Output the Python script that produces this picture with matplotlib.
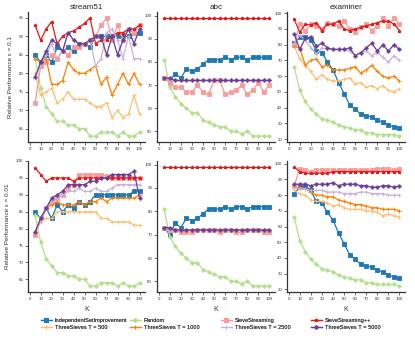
import matplotlib
matplotlib.use("Agg")
import matplotlib.pyplot as plt
import numpy as np

plt.rcParams['font.family'] = ['Liberation Sans', 'DejaVu Sans']

K = [5, 10, 15, 20, 25, 30, 35, 40, 45, 50, 55, 60, 65, 70, 75, 80, 85, 90, 95, 100]

series_names = ["IndependentSetImprovement", "Random", "SieveStreaming", "SieveStreaming++",
                "ThreeSieves T = 500", "ThreeSieves T = 1000", "ThreeSieves T = 2500", "ThreeSieves T = 5000"]
colors = ["#1f78b4", "#b2df8a", "#fb9a99", "#e31a1c", "#fdbf6f", "#ff7f00", "#cab2d6", "#6a3d9a"]
markers = ["s", "P", "s", "*", "+", "+", "+", "P"]

datasets = ["stream51", "abc", "examiner"]
eps_labels = ["Relative Performance ε = 0.1", "Relative Performance ε = 0.01"]

# ---- stream51, eps = 0.1
s51_e1_isi = [85, 83, 85, 83, 87, 86, 87, 86, 88, 88, 87, 90, 90, 90, 90, 90, 90, 90, 91, 91]
s51_e1_rand = [84, 76, 71, 69, 67, 67, 66, 66, 65, 65, 63, 63, 64, 64, 64, 63, 64, 63, 63, 64]
s51_e1_ss = [72, 82, 83, 85, 84, 86, 85, 87, 87, 88, 89, 90, 93, 95, 89, 93, 89, 92, 91, 93]
s51_e1_sspp = [93, 89, 92, 94, 88, 90, 91, 91.5, 92.5, 93.5, 95, 88, 89, 89, 90, 91, 91, 92, 92, 93]
s51_e1_t500 = [80, 74, 75, 76, 72, 73, 75, 73, 73, 73, 72, 71, 71, 72, 68, 70, 68, 69, 74, 69]
s51_e1_t1000 = [84, 83, 84, 77, 77, 78, 83, 81, 80, 80, 81, 82, 77, 79, 74, 77, 80, 77, 80, 77]
s51_e1_t2500 = [79, 82, 85, 88, 84, 86, 91, 89, 88, 88, 89, 82, 84, 91, 92, 89, 84, 90, 84, 84]
s51_e1_t5000 = [79, 83, 86, 89, 88, 86, 91, 89, 88, 88, 89, 90, 90, 85, 90, 85, 89, 92, 88, 92]

# ---- abc, eps = 0.1
abc_e1_isi = [73, 72, 75, 73, 77, 76, 77, 79, 81, 81, 81, 82, 81, 82, 82, 81, 82, 82, 82, 82]
abc_e1_rand = [81, 69, 65, 62, 60, 58, 58, 55, 54, 53, 52, 52, 50, 50, 49, 50, 48, 48, 48, 48]
abc_e1_ss = [73, 71, 69, 69, 67, 67, 70, 67, 66, 72, 72, 66, 67, 68, 70, 66, 68, 71, 67, 70]
abc_e1_sspp = [99] * 20
abc_e1_t500 = [73, 72, 72, 72, 72, 72, 72, 72, 72, 72, 72, 72, 72, 72, 72, 72, 72, 72, 72, 72]
abc_e1_t1000 = [73, 72, 72, 72, 72, 72, 72, 72, 72, 72, 72, 72, 72, 72, 72, 72, 72, 72, 72, 72]
abc_e1_t2500 = [73, 72, 72, 72, 72, 72, 72, 72, 72, 72, 72, 72, 72, 72, 72, 72, 72, 72, 72, 72]
abc_e1_t5000 = [73, 73, 72, 72, 72, 72, 72, 72, 72, 72, 72, 72, 72, 72, 72, 72, 72, 72, 72, 72]

# ---- examiner, eps = 0.1
ex_e1_isi = [81, 85, 85, 83, 76, 75, 69, 64, 56, 49, 42, 39, 36, 35, 34, 32, 31, 29, 28, 27]
ex_e1_rand = [66, 51, 44, 39, 36, 33, 32, 31, 29, 28, 27, 26, 26, 24, 24, 23, 23, 23, 23, 22]
ex_e1_ss = [80, 93, 89, 93, 92, 90, 94, 93, 92, 95, 90, 88, 91, 93, 89, 92, 97, 92, 97, 93]
ex_e1_sspp = [96, 88, 93, 92.5, 94, 89, 93, 93, 95, 90, 89, 90, 91, 92, 93, 94, 95, 95, 93, 89]
ex_e1_t500 = [79, 71, 67, 63, 58, 61, 58, 57, 57, 58, 59, 55, 56, 53, 54, 52, 54, 51, 50, 52]
ex_e1_t1000 = [79, 78, 67, 70, 71, 66, 67, 64, 64, 64, 65, 66, 62, 64, 67, 63, 60, 59, 60, 57]
ex_e1_t2500 = [81, 86, 83, 78, 74, 78, 77, 77, 77, 77, 76, 73, 75, 76, 73, 75, 72, 69, 73, 70]
ex_e1_t5000 = [87, 77, 84, 85, 79, 81, 78, 77, 77, 77, 78, 73, 75, 78, 81, 76, 80, 76, 80, 77]

# ---- stream51, eps = 0.01
s51_e2_isi = [85, 83, 86, 83, 87, 85, 87, 86, 88, 87, 88, 90, 90, 90, 90, 90, 90, 90, 91, 91]
s51_e2_rand = [84, 76, 71, 69, 67, 67, 66, 66, 65, 65, 63, 63, 64, 64, 64, 63, 64, 63, 63, 64]
s51_e2_ss = [78, 83, 86, 88, 89, 90, 92, 93, 96, 96, 96, 96, 96, 95.5, 95, 95, 95, 95, 95, 95]
s51_e2_sspp = [98, 96, 94, 95, 95, 95, 95, 94, 95, 95, 95, 95, 95, 95, 95, 95, 95, 95, 95, 95]
s51_e2_t500 = [79, 82, 83, 83, 85, 85, 85, 85, 85, 85, 85, 85, 83, 83, 82, 82, 82, 82, 81, 81]
s51_e2_t1000 = [79, 83, 86, 87, 88, 87, 87, 87, 88, 87, 88, 88, 89, 88, 89, 89, 89, 89, 89, 90]
s51_e2_t2500 = [79, 82, 86, 88, 89, 90, 91, 91, 92, 91, 91, 92, 91, 91, 92, 93, 93, 93, 93, 93]
s51_e2_t5000 = [79, 83, 86, 89, 90, 91, 93, 93, 93, 93, 94, 94, 95, 95, 96, 96, 96, 96, 97, 89]

# ---- abc, eps = 0.01
abc_e2_isi = [73, 70, 75, 73, 77, 76, 77, 79, 81, 81, 81, 82, 81, 82, 82, 81, 82, 82, 82, 82]
abc_e2_rand = [81, 69, 65, 62, 60, 58, 58, 55, 54, 53, 52, 52, 50, 50, 49, 50, 48, 48, 48, 48]
abc_e2_ss = [73, 72, 72, 71, 71, 71, 72, 72, 72, 72, 71, 72, 72, 71, 71, 72, 72, 72, 71, 71]
abc_e2_sspp = [99] * 20
abc_e2_t500 = [73, 72, 72, 72, 72, 72, 72, 72, 72, 72, 72, 72, 72, 72, 72, 72, 72, 72, 72, 72]
abc_e2_t1000 = [73, 72, 72, 72, 72, 72, 72, 72, 72, 72, 72, 72, 72, 72, 72, 72, 72, 72, 72, 72]
abc_e2_t2500 = [73, 72, 72, 72, 72, 72, 72, 72, 72, 72, 72, 72, 72, 72, 72, 72, 72, 72, 72, 72]
abc_e2_t5000 = [73, 73, 72, 72, 72, 72, 72, 72, 72, 72, 72, 72, 72, 72, 72, 72, 72, 72, 72, 72]

# ---- examiner, eps = 0.01
ex_e2_isi = [81, 85, 86, 83, 76, 75, 69, 64, 56, 49, 42, 39, 36, 35, 34, 32, 31, 29, 28, 27]
ex_e2_rand = [66, 51, 44, 39, 36, 33, 32, 31, 29, 28, 27, 26, 26, 24, 24, 23, 23, 23, 23, 22]
ex_e2_ss = [86, 97, 96, 95, 96, 96, 96, 96, 96, 96, 96, 96, 96, 96, 96, 97, 97, 97, 96, 97]
ex_e2_sspp = [98, 95, 94, 94, 94, 94, 94, 95, 95, 95, 95, 95, 95, 95, 95, 95, 95, 95, 95, 95]
ex_e2_t500 = [83, 81, 80, 77, 76, 76, 75, 73, 74, 72, 71, 71, 71, 70, 70, 69, 67, 68, 67, 66]
ex_e2_t1000 = [85, 85, 84, 82, 80, 80, 79, 79, 77, 76, 75, 74, 74, 73, 72, 72, 71, 71, 71, 70]
ex_e2_t2500 = [85, 84, 84, 83, 83, 83, 82, 82, 82, 81, 81, 81, 82, 82, 81, 81, 81, 80, 80, 80]
ex_e2_t5000 = [87, 87, 87, 86, 87, 87, 87, 88, 86, 87, 87, 87, 86, 86, 85, 85, 86, 86, 85, 86]

panels = [
    [
        [s51_e1_isi, s51_e1_rand, s51_e1_ss, s51_e1_sspp, s51_e1_t500, s51_e1_t1000, s51_e1_t2500, s51_e1_t5000],
        [abc_e1_isi, abc_e1_rand, abc_e1_ss, abc_e1_sspp, abc_e1_t500, abc_e1_t1000, abc_e1_t2500, abc_e1_t5000],
        [ex_e1_isi, ex_e1_rand, ex_e1_ss, ex_e1_sspp, ex_e1_t500, ex_e1_t1000, ex_e1_t2500, ex_e1_t5000],
    ],
    [
        [s51_e2_isi, s51_e2_rand, s51_e2_ss, s51_e2_sspp, s51_e2_t500, s51_e2_t1000, s51_e2_t2500, s51_e2_t5000],
        [abc_e2_isi, abc_e2_rand, abc_e2_ss, abc_e2_sspp, abc_e2_t500, abc_e2_t1000, abc_e2_t2500, abc_e2_t5000],
        [ex_e2_isi, ex_e2_rand, ex_e2_ss, ex_e2_sspp, ex_e2_t500, ex_e2_t1000, ex_e2_t2500, ex_e2_t5000],
    ],
]

W, H = 415, 340
fig = plt.figure(figsize=(W / 100, H / 100), dpi=100)

col_x = [(28, 145), (157, 275), (287, 405)]
row_y = [(12, 142), (161, 292)]

tick_fs = 3.2
handles = []
for r in range(2):
    for c in range(3):
        x0, x1 = col_x[c]
        y0, y1 = row_y[r]
        ax = fig.add_axes([x0 / W, 1 - y1 / H, (x1 - x0) / W, (y1 - y0) / H])
        for i, vals in enumerate(panels[r][c]):
            ax.plot(K, vals, color=colors[i], marker=markers[i], markersize=2.4,
                    markeredgewidth=0.6, linewidth=0.9, label=series_names[i])
        ax.set_xlim(-1.5, 105)
        ax.set_xticks(range(0, 101, 10))
        ax.margins(y=0.05)
        for s in ["top", "right"]:
            ax.spines[s].set_visible(False)
        for s in ["left", "bottom"]:
            ax.spines[s].set_linewidth(0.9)
            ax.spines[s].set_color("#333333")
        ax.tick_params(labelsize=tick_fs, length=2, width=0.5, pad=1.5, colors="#333333")
        if c == 0:
            ax.set_yticks(range(65, 101, 5) if r == 1 else range(65, 96, 5))
            ax.set_ylabel(eps_labels[r], fontsize=4.6, color="#333333", labelpad=4)
        elif c == 1:
            ax.set_yticks(range(50, 101, 10))
        else:
            ax.set_yticks(range(20, 101, 10))
        if r == 0:
            ax.set_title(datasets[c], fontsize=5.8, color="#222222", pad=2)
        else:
            ax.set_xlabel("K", fontsize=5.0, color="#333333", labelpad=4)
        if r == 1 and c == 0:
            handles, labels = ax.get_legend_handles_labels()

# legend: 4 columns, row-major order, each column placed at its own x
col_starts = [41, 130, 221, 311]
for j in range(4):
    leg = fig.legend([handles[j], handles[j + 4]], [series_names[j], series_names[j + 4]],
                     loc="upper left", bbox_to_anchor=(col_starts[j] / W, 1 - 318 / H),
                     fontsize=4.1, frameon=False, handlelength=1.9, handletextpad=0.5,
                     labelspacing=0.35, borderpad=0.0, borderaxespad=0.0)
    for t in leg.get_texts():
        t.set_color("#333333")
    fig.add_artist(leg)

fig.savefig("out.png", dpi=100)
